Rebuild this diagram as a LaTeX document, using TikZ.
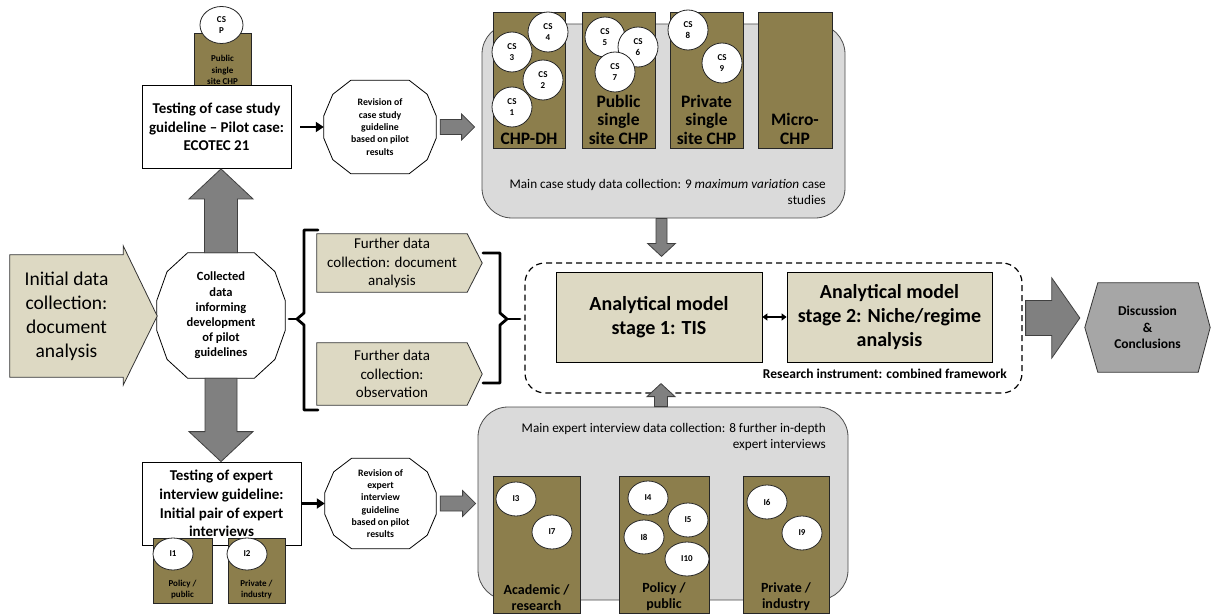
\documentclass[tikz,border=0pt]{standalone}
\usepackage{fontspec}
\setmainfont{Carlito}
\usetikzlibrary{arrows.meta,calc,shapes.geometric}
\pgfdeclarelayer{background}
\pgfsetlayers{background,main}

\definecolor{olive}{HTML}{8C7E4C}
\definecolor{beige}{HTML}{DDD9C3}
\definecolor{panelgray}{HTML}{DADADA}
\definecolor{arrowgray}{HTML}{808080}
\definecolor{hexgray}{HTML}{A6A6A6}

\newcommand\fs[2]{\fontsize{#1}{#2}\selectfont}

\tikzset{
  plain/.style={inner sep=0pt, align=center},
  panelbox/.style={draw=black!70, fill=panelgray, rounded corners=30pt, line width=0.8pt, inner sep=0pt},
  dashedbox/.style={draw=black, rounded corners=20pt, line width=1.2pt, dash pattern=on 6pt off 4pt, inner sep=0pt},
  olivebox/.style={draw=black!85, fill=olive, line width=0.8pt, inner sep=0pt},
  olivelabel/.style={font=\bfseries\fs{17.5}{18.3}, align=center, anchor=south, inner sep=4pt},
  smalllabel/.style={font=\bfseries\fs{9}{11.5}, align=center, inner sep=0pt},
  cscircle/.style={circle, draw=black!85, fill=white, line width=0.8pt, minimum size=40pt, inner sep=0pt, align=center, font=\bfseries\fs{9}{11.5}},
  iellipse/.style={ellipse, draw=black!85, fill=white, line width=0.8pt, minimum width=40pt, minimum height=34pt, inner sep=0pt, font=\bfseries\fs{9}{11}},
  whitebox/.style={draw=black, fill=white, line width=0.8pt, inner sep=2pt, align=center, font=\bfseries\fs{15}{18.7}},
  stagebox/.style={draw=black, fill=beige, line width=0.8pt, inner sep=2pt, align=center, font=\bfseries\fs{20}{24}},
  polyline/.style={draw=black, fill=white, line width=0.8pt},
  beigeshape/.style={draw=black!80, fill=beige, line width=0.8pt},
  hexshape/.style={draw=black!80, fill=hexgray, line width=0.8pt},
  blockarrow/.style={draw=black!75, fill=arrowgray, line width=0.8pt},
  blackarrow/.style={line width=2.6pt, -{Triangle[length=8pt,width=10pt]}},
  dblarrow/.style={line width=1.8pt, {Triangle[length=5pt,width=7pt]}-{Triangle[length=5pt,width=7pt]}},
  bracestyle/.style={line width=2.8pt, line join=round, line cap=round},
  paneltext/.style={font=\fs{13.2}{16}, align=right, inner sep=0pt, anchor=east},
}

\newcommand\dodecagon[1]{%
\begin{pgfonlayer}{background}
\draw[polyline] let \p1=(#1.north west), \p2=(#1.south east), \n1={\x2-\x1}, \n2={\y2-\y1} in
 (\x1+0.24*\n1,\y1) -- (\x1+0.76*\n1,\y1) -- (\x1+0.92*\n1,\y1+0.15*\n2) -- (\x2,\y1+0.38*\n2) -- (\x2,\y1+0.62*\n2) -- (\x1+0.92*\n1,\y1+0.85*\n2) -- (\x1+0.76*\n1,\y2) -- (\x1+0.24*\n1,\y2) -- (\x1+0.08*\n1,\y1+0.85*\n2) -- (\x1,\y1+0.62*\n2) -- (\x1,\y1+0.38*\n2) -- (\x1+0.08*\n1,\y1+0.15*\n2) -- cycle;
\end{pgfonlayer}}

\newcommand\rarrow[5]{%
\draw[blockarrow] let \p1=(#1), \p2=(#2) in
 (\x1,\y1+#3pt) -- (\x2-#5pt,\y1+#3pt) -- (\x2-#5pt,\y1+#4pt) -- (\x2,\y1) -- (\x2-#5pt,\y1-#4pt) -- (\x2-#5pt,\y1-#3pt) -- (\x1,\y1-#3pt) -- cycle;}
\newcommand\darrow[5]{%
\draw[blockarrow] let \p1=(#1), \p2=(#2) in
 (\x1-#3pt,\y1) -- (\x1-#3pt,\y2+#5pt) -- (\x1-#4pt,\y2+#5pt) -- (\x1,\y2) -- (\x1+#4pt,\y2+#5pt) -- (\x1+#3pt,\y2+#5pt) -- (\x1+#3pt,\y1) -- cycle;}
\newcommand\uarrow[5]{%
\draw[blockarrow] let \p1=(#1), \p2=(#2) in
 (\x1-#3pt,\y1) -- (\x1-#3pt,\y2-#5pt) -- (\x1-#4pt,\y2-#5pt) -- (\x1,\y2) -- (\x1+#4pt,\y2-#5pt) -- (\x1+#3pt,\y2-#5pt) -- (\x1+#3pt,\y1) -- cycle;}

\begin{document}
\begin{tikzpicture}[x=1pt,y=-1pt]
\begin{pgfonlayer}{background}
\fill[white] (0,0) rectangle (1212,615);
\end{pgfonlayer}
\useasboundingbox (0,0) rectangle (1212,615);

% containers
\node[panelbox, minimum width=363pt, minimum height=194pt] (casebox) at (663.5,121) {};
\node[panelbox, minimum width=370pt, minimum height=193pt] (intbox) at (663,503.5) {};
\node[dashedbox, minimum width=497pt, minimum height=130pt] (frame) at (773.5,328) {};

% case study columns
\node[olivebox, minimum width=72pt, minimum height=136pt] (chpdh) at (529,80) {};
\node[olivebox, minimum width=73pt, minimum height=136pt] (pubchp) at (618.5,80) {};
\node[olivebox, minimum width=73pt, minimum height=136pt] (privchp) at (706.5,80) {};
\node[olivebox, minimum width=74pt, minimum height=136pt] (micro) at (795,80) {};
\node[olivelabel] (chpdhl) at (chpdh.south) {CHP-DH};
\node[olivelabel] (pubchpl) at (pubchp.south) {Public\\single\\site CHP};
\node[olivelabel] (privchpl) at (privchp.south) {Private\\single\\site CHP};
\node[olivelabel] (microl) at (micro.south) {Micro-\\CHP};

\node[cscircle] (cs4) at (548,32) {CS\\4};
\node[cscircle] (cs3) at (512,52) {CS\\3};
\node[cscircle] (cs2) at (543,80) {CS\\2};
\node[cscircle] (cs1) at (512,107) {CS\\1};
\node[cscircle] (cs5) at (605,37) {CS\\5};
\node[cscircle] (cs6) at (638,47) {CS\\6};
\node[cscircle] (cs7) at (615,72) {CS\\7};
\node[cscircle] (cs8) at (688,30) {CS\\8};
\node[cscircle] (cs9) at (722,63) {CS\\9};

\node[paneltext] (casetxt) at (826,192) {Main case study data collection: 9 \textit{maximum variation} case\\studies};

% expert interview columns
\node[olivebox, minimum width=87pt, minimum height=137pt] (acad) at (536.5,544.5) {};
\node[olivebox, minimum width=90pt, minimum height=137pt] (polbox) at (664,544.5) {};
\node[olivebox, minimum width=86pt, minimum height=137pt] (privbox) at (786,544.5) {};
\node[olivelabel, font=\bfseries\fs{14}{16}, inner sep=3pt] (acadl) at (acad.south) {Academic /\\research};
\node[olivelabel, font=\bfseries\fs{14}{16}, inner sep=3pt] (poll) at (polbox.south) {Policy /\\public};
\node[olivelabel, font=\bfseries\fs{14}{16}, inner sep=3pt] (privl) at (privbox.south) {Private /\\industry};

\node[iellipse] (i3) at (516,499) {I3};
\node[iellipse] (i7) at (552,532) {I7};
\node[iellipse] (i4) at (648,498) {I4};
\node[iellipse] (i5) at (688,520) {I5};
\node[iellipse] (i8) at (644,537) {I8};
\node[iellipse, minimum width=44pt] (i10) at (687,559) {I10};
\node[iellipse] (i6) at (767,502) {I6};
\node[iellipse] (i9) at (802,533) {I9};

\node[paneltext] (inttxt) at (826,437) {Main expert interview data collection: 8 further in-depth\\expert interviews};

% pilot case study
\node[olivebox, minimum width=57pt, minimum height=54pt] (pilotbox) at (222.5,60) {};
\node[smalllabel] (pilotl) at (222.5,70) {Public\\single\\site CHP};
\node[cscircle, ellipse, minimum width=43pt, minimum height=37pt] (csp) at (221.5,25) {CS\\P};
\node[whitebox, minimum width=149pt, minimum height=83pt] (test1) at (216.5,127) {Testing of case study\\guideline – Pilot case:\\ECOTEC 21};

% pilot expert interviews
\node[whitebox, minimum width=159pt, minimum height=83pt] (test2) at (221.5,503.5) {Testing of expert\\interview guideline:\\Initial pair of expert\\interviews};
\node[olivebox, minimum width=59pt, minimum height=65pt] (i1box) at (182.5,570.5) {};
\node[olivebox, minimum width=57pt, minimum height=65pt] (i2box) at (256.5,570.5) {};
\node[smalllabel, anchor=south, inner sep=4pt] (i1l) at (i1box.south) {Policy /\\public};
\node[smalllabel, anchor=south, inner sep=4pt] (i2l) at (i2box.south) {Private /\\industry};
\node[iellipse, minimum height=32pt] (i1) at (173,554) {I1};
\node[iellipse, minimum height=32pt] (i2) at (247,554) {I2};

% dodecagons
\node[plain, minimum width=128pt, minimum height=125pt, font=\bfseries\fs{12.5}{15.2}] (col) at (221,315.5) {Collected\\data\\informing\\development\\of pilot\\guidelines};
\dodecagon{col}
\node[plain, minimum width=112pt, minimum height=93pt, font=\bfseries\fs{9.8}{12.3}] (rev1) at (380,127) {Revision of\\case study\\guideline\\based on pilot\\results};
\dodecagon{rev1}
\node[plain, minimum width=111pt, minimum height=90pt, font=\bfseries\fs{9.8}{12.3}] (rev2) at (380.5,503.5) {Revision of\\expert\\interview\\guideline\\based on pilot\\results};
\dodecagon{rev2}

% initial data collection
\node[plain, minimum width=113pt, minimum height=122pt, font=\fs{19.5}{24}] (init) at (66.5,316) {Initial data\\collection:\\document\\analysis};
\begin{pgfonlayer}{background}
\draw[beigeshape] (init.north west) -- (init.north east) -- ([yshift=9pt]init.north east) -- ([xshift=34pt]init.east) -- ([yshift=-8pt]init.south east) -- (init.south east) -- (init.south west) -- cycle;
\end{pgfonlayer}

% further data collection
\node[plain, minimum width=150pt, minimum height=58pt, font=\fs{15}{18.5}] (fa) at (392,263) {Further data\\collection: document\\analysis};
\node[plain, minimum width=150pt, minimum height=62pt, font=\fs{15}{18.5}] (fb) at (392,374) {Further data\\collection:\\observation};
\begin{pgfonlayer}{background}
\draw[beigeshape] (fa.north west) -- (fa.north east) -- ([xshift=15pt]fa.east) -- (fa.south east) -- (fa.south west) -- cycle;
\draw[beigeshape] (fb.north west) -- (fb.north east) -- ([xshift=15pt]fb.east) -- (fb.south east) -- (fb.south west) -- cycle;
\end{pgfonlayer}

% analytical model
\node[stagebox, minimum width=206pt, minimum height=90pt] (st1) at (659,317) {Analytical model\\stage 1: TIS};
\node[stagebox, minimum width=205pt, minimum height=90pt] (st2) at (889.5,317) {Analytical model\\stage 2: Niche/regime\\analysis};
\node[font=\bfseries\fs{13.5}{15}, anchor=east, inner sep=0pt] (rinst) at (1007,374) {Research instrument: combined framework};

% discussion
\node[plain, minimum width=125pt, minimum height=89pt, font=\bfseries\fs{13.5}{16.5}] (disc) at (1147.5,327.5) {Discussion\\\&\\Conclusions};
\begin{pgfonlayer}{background}
\draw[hexshape] (disc.west) -- ([xshift=13pt]disc.north west) -- ([xshift=-12pt]disc.north east) -- (disc.east) -- ([xshift=-12pt]disc.south east) -- ([xshift=13pt]disc.south west) -- cycle;
\end{pgfonlayer}

% block arrows
\uarrow{col.north}{test1.south}{16.5}{32}{30}
\darrow{col.south}{test2.north}{16}{32}{30}
\rarrow{[xshift=4pt]rev1.east}{[xshift=-7pt]casebox.west}{7.5}{13}{13}
\rarrow{[xshift=4pt]rev2.east}{[xshift=-2pt]intbox.west}{7.5}{13}{13}
\darrow{[xshift=-2pt]casebox.south}{[yshift=6pt]frame.north}{5.5}{14}{13}
\uarrow{[xshift=-2pt]intbox.north}{[yshift=10pt]frame.south}{6.5}{14}{13}
\rarrow{[xshift=3pt,yshift=10pt]frame.east}{[xshift=-5pt]disc.west}{17.5}{40}{28}

% black arrows
\draw[blackarrow] ([xshift=9pt]test1.east) -- (rev1.west);
\draw[blackarrow] ([xshift=1pt]test2.east) -- (rev2.west);
\draw[dblarrow] (st1.east) -- (st2.west);

% braces
\draw[bracestyle] (318,230) -- (304,230) -- (304,313) -- (297,319) -- (304,325) -- (304,410) -- (318,410);
\draw[bracestyle] (297,319) -- (289,319);
\draw[bracestyle] (483,253) -- (500,253) -- (500,313) -- (507,319) -- (500,325) -- (500,383) -- (483,383);
\draw[bracestyle] (507,319) -- (520,319);
\end{tikzpicture}
\end{document}
